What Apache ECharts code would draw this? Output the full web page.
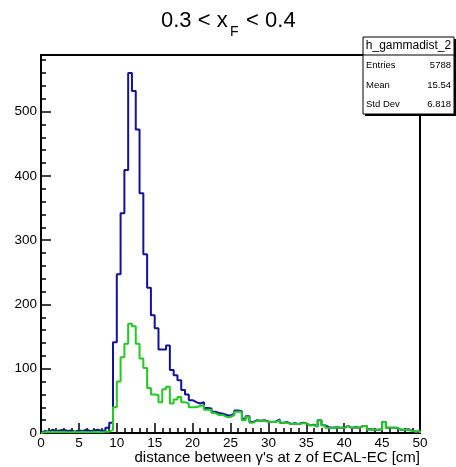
<!DOCTYPE html>
<html>
<head>
<meta charset="utf-8">
<script src="https://cdn.jsdelivr.net/npm/echarts@6/dist/echarts.min.js"></script>
<style>
html,body{margin:0;padding:0;background:#fff;}
#chart{width:456px;height:467px;}
</style>
</head>
<body>
<div id="chart"></div>
<script>
// ---- data ----
const binLow = 0;
const binWidth = 0.5;
const xTicks = [0, 5, 10, 15, 20, 25, 30, 35, 40, 45, 50];
const yTicks = [0, 100, 200, 300, 400, 500];
const blueCounts = [3,2,5,3,4,5,3,4,2,4,3,5,3,4,5,3,4,8,16,141,247,342,409,560,532,472,373,278,226,183,163,130,130,136,98,90,82,67,60,51,48,46,48,39,38,33,31,30,28,27,30,35,34,22,26,17,20,19,20,18,17,18,21,16,17,14,15,14,16,15,12,13,10,20,12,9,8,9,8,8,11,8,9,8,11,11,6,5,5,6,17,8,8,8,5,5,6,3,2,3];
const greenCounts = [1,2,1,2,1,2,1,1,2,1,2,1,1,2,1,1,2,2,5,40,80,118,139,170,166,139,116,101,70,60,59,48,68,72,46,52,56,48,46,40,40,42,43,36,36,31,28,28,25,25,28,33,33,20,25,16,19,19,19,17,17,17,20,16,16,14,14,14,15,15,12,12,10,20,12,8,8,8,8,8,11,8,8,8,11,11,5,5,5,5,17,8,8,8,5,5,5,3,2,3];
const titleMain = "0.3 < x";
const titleSub = "F";
const titleEnd = " < 0.4";
const xAxisTitle = "distance between γ's at z of ECAL-EC [cm]";
const statsName = "h_gammadist_2";
const statLabels = ["Entries", "Mean", "Std Dev"];
const statValues = ["5788", "15.54", "6.818"];
const yMax = 588;

function stepPoints(counts) {
  const pts = [[binLow, 0]];
  counts.forEach((v, i) => pts.push([binLow + i * binWidth, v]));
  const hi = binLow + counts.length * binWidth;
  pts.push([hi, counts[counts.length - 1]]);
  pts.push([hi, 0]);
  return pts;
}

const FONT = "Liberation Sans, Arial, Helvetica, sans-serif";
const chart = echarts.init(document.getElementById('chart'), null, {renderer: 'canvas'});

const statGraphics = [];
const rowY = [65, 85.5, 104.5];
statLabels.forEach((lab, i) => {
  statGraphics.push({type: 'text', x: 366, y: rowY[i], z: 102,
    style: {text: lab, font: '9.5px ' + FONT, fill: '#000', verticalAlign: 'middle', align: 'left'}});
  statGraphics.push({type: 'text', x: 451, y: rowY[i], z: 102,
    style: {text: statValues[i], font: '9.5px ' + FONT, fill: '#000', verticalAlign: 'middle', align: 'right'}});
});

const option = {
  animation: false,
  backgroundColor: '#fff',
  grid: {left: 41, top: 55, width: 379, height: 378, show: true, borderColor: '#000', borderWidth: 2, backgroundColor: 'transparent', containLabel: false},
  xAxis: {
    type: 'value', min: xTicks[0], max: xTicks[xTicks.length - 1], interval: xTicks[1] - xTicks[0],
    axisLine: {show: false},
    axisTick: {show: true, inside: true, length: 10, lineStyle: {color: '#000', width: 1.5}},
    minorTick: {show: true, splitNumber: 5, length: 5, lineStyle: {color: '#000', width: 1.5}},
    splitLine: {show: false},
    axisLabel: {show: true, color: '#000', fontFamily: FONT, fontSize: 13.5, margin: 3,
      formatter: v => xTicks.includes(v) ? String(v) : ''}
  },
  yAxis: [{
    type: 'value', min: 0, max: yMax, interval: yTicks[1] - yTicks[0], position: 'left',
    axisLine: {show: false},
    axisTick: {show: true, inside: true, length: 10, lineStyle: {color: '#000', width: 1.5}},
    splitLine: {show: false},
    axisLabel: {show: true, color: '#000', fontFamily: FONT, fontSize: 13.5, margin: 4,
      formatter: v => yTicks.includes(v) ? String(v) : ''}
  }, {
    type: 'value', min: 0, max: yMax, interval: 20, position: 'left', offset: 0,
    axisLine: {show: false},
    axisTick: {show: true, inside: true, length: 5, lineStyle: {color: '#000', width: 1.5}},
    splitLine: {show: false},
    axisLabel: {show: false}
  }],
  series: [{
    type: 'line', step: 'end', showSymbol: false, symbol: 'none', yAxisIndex: 0,
    data: stepPoints(blueCounts),
    lineStyle: {color: '#12129c', width: 2}, itemStyle: {color: '#12129c'}, z: 3
  }, {
    type: 'line', step: 'end', showSymbol: false, symbol: 'none', yAxisIndex: 0,
    data: stepPoints(greenCounts),
    lineStyle: {color: '#1fcc1f', width: 2}, itemStyle: {color: '#1fcc1f'}, z: 4
  }],
  graphic: [
    {type: 'text', x: 161, y: 21, style: {text: titleMain, font: '22px ' + FONT, fill: '#000', verticalAlign: 'middle', align: 'left'}},
    {type: 'text', x: 230, y: 32, style: {text: titleSub, font: '14px ' + FONT, fill: '#000', verticalAlign: 'middle', align: 'left'}},
    {type: 'text', x: 240, y: 21, style: {text: titleEnd, font: '22px ' + FONT, fill: '#000', verticalAlign: 'middle', align: 'left'}},
    {type: 'text', x: 420, y: 458, style: {text: xAxisTitle, font: '15px ' + FONT, fill: '#000', verticalAlign: 'middle', align: 'right'}},
    {type: 'rect', shape: {x: 365, y: 39, width: 91, height: 77}, z: 99, style: {fill: '#000'}},
    {type: 'rect', shape: {x: 363, y: 37, width: 91, height: 77}, z: 100, style: {fill: '#fff', stroke: '#000', lineWidth: 1}},
    {type: 'line', shape: {x1: 363, y1: 55, x2: 454, y2: 55}, z: 101, style: {stroke: '#000', lineWidth: 1}},
    {type: 'text', x: 408.5, y: 46, z: 102, style: {text: statsName, font: '12px ' + FONT, fill: '#000', verticalAlign: 'middle', align: 'center'}}
  ].concat(statGraphics)
};
chart.setOption(option);
</script>
</body>
</html>
